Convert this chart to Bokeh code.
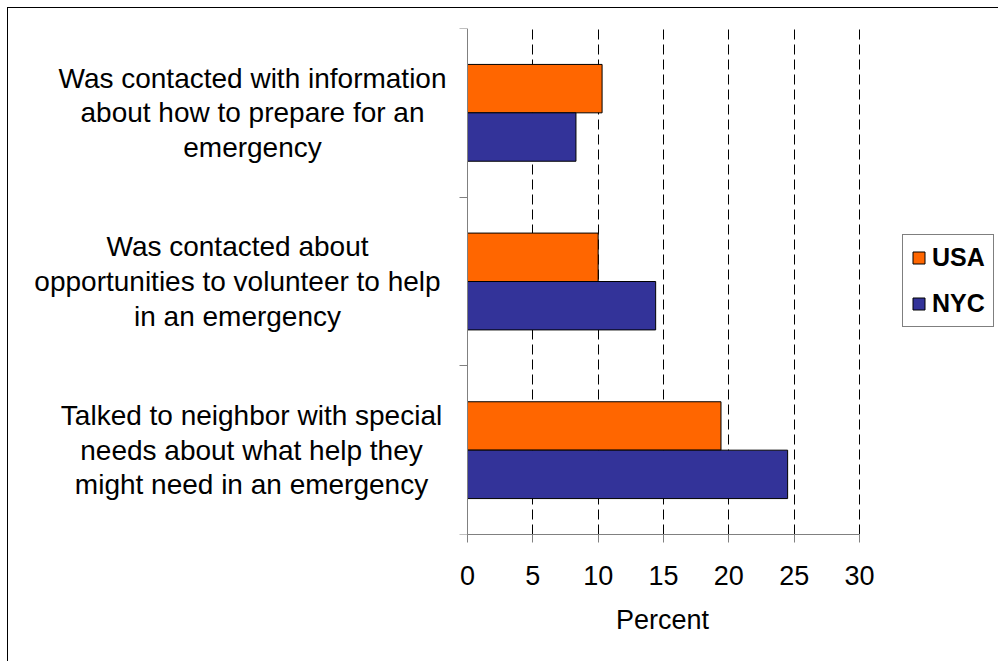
from bokeh.plotting import figure
from bokeh.models import (Range1d, FixedTicker, Legend, LegendItem, Label,
                          Title, ColumnDataSource)
from bokeh.transform import dodge
from bokeh.embed import file_html
from bokeh.resources import INLINE

# Survey items, listed bottom to top as they appear on the chart
categories = [
    "Talked to neighbor with special\nneeds about what help they\nmight need in an emergency",
    "Was contacted about\nopportunities to volunteer to help\nin an emergency",
    "Was contacted with information\nabout how to prepare for an\nemergency",
]
usa = [19.4, 10.0, 10.3]
nyc = [24.5, 14.4, 8.3]
x_ticks = [0, 5, 10, 15, 20, 25, 30]
series_names = ["USA", "NYC"]
x_title = "Percent"

FONT = "Liberation Sans"
USA_COLOR = "#FF6600"
NYC_COLOR = "#333399"
AXIS_GREY = "#808080"

# Page geometry (pixels). The canvas sits inside a 7px margin plus a 1px
# border; the plotting frame spans nearly the whole canvas width so that the
# category labels and the legend can live inside it, while the value axis
# itself runs from 0 to 30 between AXIS_X0 and AXIS_X1.
CANVAS_W, CANVAS_H = 991, 654
CANVAS_X0 = 8
FRAME_LEFT = 20          # canvas px reserved for the y-axis panel
AXIS_X0, AXIS_X1 = 467, 859
X_MAX = x_ticks[-1]
px_per_unit = (AXIS_X1 - AXIS_X0) / X_MAX
frame_x0 = CANVAS_X0 + FRAME_LEFT
frame_x1 = CANVAS_X0 + CANVAS_W
x_start = (frame_x0 - AXIS_X0) / px_per_unit
x_end = X_MAX + (frame_x1 - AXIS_X1) / px_per_unit

src = ColumnDataSource(dict(
    pos=[i + 0.5 for i in range(len(categories))],
    usa=usa,
    nyc=nyc,
))

p = figure(width=CANVAS_W, height=CANVAS_H,
           x_range=Range1d(x_start, x_end), y_range=Range1d(0, len(categories)),
           output_backend="svg", toolbar_location=None,
           min_border_left=FRAME_LEFT, min_border_right=0,
           min_border_top=20, min_border_bottom=128)
p.styles = {"margin-left": "7px", "margin-top": "7px",
            "border-left": "1px solid #000", "border-top": "1px solid #000"}
p.outline_line_color = None
p.background_fill_color = "white"
p.border_fill_color = "white"

bar_h = 0.287
r_usa = p.hbar(y=dodge("pos", bar_h / 2), right="usa", left=0, height=bar_h,
               source=src, fill_color=USA_COLOR, line_color="#000000",
               line_width=1)
r_nyc = p.hbar(y=dodge("pos", -bar_h / 2), right="nyc", left=0, height=bar_h,
               source=src, fill_color=NYC_COLOR, line_color="#000000",
               line_width=1)

# x axis, limited to 0..30
xa = p.xaxis[0]
xa.bounds = (0, X_MAX)
xa.ticker = FixedTicker(ticks=x_ticks, minor_ticks=[])
xa.major_label_text_font = FONT
xa.major_label_text_font_size = "27px"
xa.major_label_text_color = "black"
xa.major_label_standoff = 23
xa.axis_line_color = AXIS_GREY
xa.major_tick_line_color = AXIS_GREY
xa.major_tick_in = 0
xa.major_tick_out = 8
xa.minor_tick_line_color = None

# axis title, centred under the 0..30 span
title_w = 95
p.add_layout(Title(text=x_title, align="left",
                   offset=(AXIS_X0 + AXIS_X1) / 2 - title_w / 2 - frame_x0,
                   text_font=FONT, text_font_size="27px",
                   text_font_style="normal", text_color="black",
                   standoff=31), "below")

# y axis pinned at x = 0, tick marks at category boundaries only
ya = p.yaxis[0]
ya.fixed_location = 0
ya.ticker = FixedTicker(ticks=[], minor_ticks=list(range(len(categories) + 1)))
ya.axis_line_color = AXIS_GREY
ya.minor_tick_line_color = AXIS_GREY
ya.minor_tick_in = 0
ya.minor_tick_out = 8
ya.major_tick_line_color = None
ya.major_label_text_font_size = "0px"
ya.major_label_standoff = 0

p.ygrid.visible = False
p.xgrid.bounds = (0, X_MAX)
p.xgrid.grid_line_color = "black"
p.xgrid.grid_line_dash = "10 5"
p.xgrid.grid_line_width = 1

# category labels, centred line by line to the left of the axis
label_cx = [251, 237, 252]
for i, (txt, cx) in enumerate(zip(categories, label_cx)):
    p.add_layout(Label(x=cx - frame_x0, y=i + 0.5, x_units="screen",
                       y_units="data", text=txt, text_align="center",
                       text_baseline="middle", text_font=FONT,
                       text_font_size="28px", text_line_height=1.12,
                       text_color="black"))

legend = Legend(items=[LegendItem(label=series_names[0], renderers=[r_usa]),
                       LegendItem(label=series_names[1], renderers=[r_nyc])],
                location=(902 - frame_x0, 207), orientation="vertical",
                border_line_color="black", border_line_width=1,
                background_fill_color="white", background_fill_alpha=1,
                label_text_font=FONT, label_text_font_size="25px",
                label_text_font_style="bold", label_text_color="black",
                glyph_width=15, glyph_height=15, label_standoff=6,
                padding=8, spacing=17, label_height=23, margin=0)
p.add_layout(legend)

open("out.html", "w").write(file_html(p, INLINE))
